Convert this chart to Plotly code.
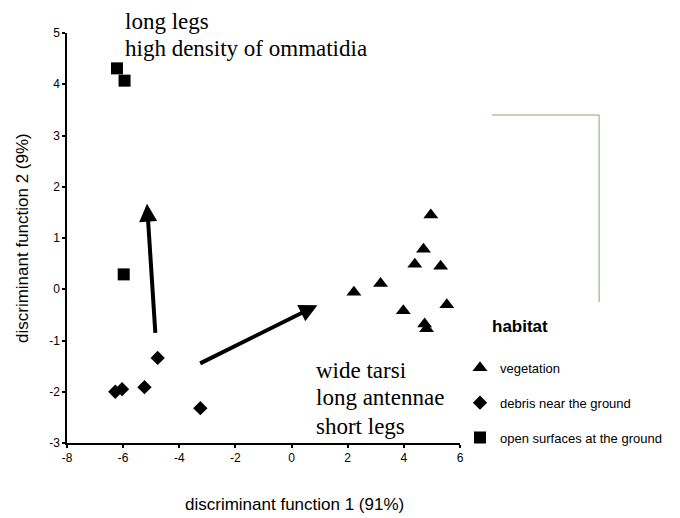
import plotly.graph_objects as go

# Data
veg_x = [4.96, 4.70, 4.39, 5.31, 3.17, 2.22, 3.98, 5.53, 4.74, 4.81]
veg_y = [1.45, 0.78, 0.49, 0.45, 0.11, -0.06, -0.42, -0.30, -0.68, -0.77]
deb_x = [-4.77, -5.24, -6.04, -6.28, -3.25]
deb_y = [-1.34, -1.91, -1.95, -2.00, -2.32]
open_x = [-6.22, -5.95, -5.98]
open_y = [4.31, 4.07, 0.29]

# Arrows: (tail_x, tail_y, tip_x, tip_y)
arrow_up = (-4.85, -0.88, -5.15, 1.67)
arrow_right = (-3.31, -1.46, 0.92, -0.31)

x_ticks = [-8, -6, -4, -2, 0, 2, 4, 6]
x_tick_labels = ["-8", "-6", "-4", "-2", "0", "2", "4", "6"]
y_ticks = [-3, -2, -1, 0, 1, 2, 3, 4, 5]
y_tick_labels = ["-3", "-2", "-1", "0", "1", "2", "3", "4", "5"]

upper_lines = ["long legs", "high density of ommatidia"]
lower_lines = ["wide tarsi", "long antennae", "short legs"]

fig = go.Figure()
fig.add_trace(go.Scatter(x=veg_x, y=veg_y, mode="markers", name="vegetation",
                         legendgroup="a",
                         marker=dict(symbol="triangle-up", size=13, color="black")))
fig.add_trace(go.Scatter(x=deb_x, y=deb_y, mode="markers", name="debris near the ground",
                         legendgroup="b",
                         marker=dict(symbol="diamond", size=11, color="black")))
fig.add_trace(go.Scatter(x=open_x, y=open_y, mode="markers", name="open surfaces at the ground",
                         legendgroup="c",
                         marker=dict(symbol="square", size=12, color="black")))

for tx, ty, hx, hy in (arrow_up, arrow_right):
    fig.add_annotation(x=hx, y=hy, ax=tx, ay=ty, xref="x", yref="y", axref="x", ayref="y",
                       text="", showarrow=True, arrowhead=2, arrowsize=0.9, arrowwidth=4,
                       arrowcolor="black")

serif = "Liberation Serif, Times New Roman, serif"
sans = "Liberation Sans, Arial, sans-serif"

for txt, yy in zip(upper_lines, [1.029, 0.961]):
    fig.add_annotation(x=0.143, y=yy, xref="paper", yref="paper", xanchor="left", yanchor="middle",
                       text=txt, showarrow=False,
                       font=dict(family=serif, size=23, color="black"))
for txt, yy in zip(lower_lines, [0.178, 0.110, 0.041]):
    fig.add_annotation(x=0.628, y=yy, xref="paper", yref="paper", xanchor="left", yanchor="middle",
                       text=txt, showarrow=False,
                       font=dict(family=serif, size=23, color="black"))

fig.add_annotation(x=0.578, y=-0.151, xref="paper", yref="paper", xanchor="center", yanchor="middle",
                   text="discriminant function 1 (91%)", showarrow=False,
                   font=dict(family=sans, size=17, color="black"))
fig.add_annotation(x=-0.1145, y=0.5, xref="paper", yref="paper", xanchor="center", yanchor="middle",
                   text="discriminant function 2 (9%)", showarrow=False, textangle=-90,
                   font=dict(family=sans, size=17, color="black"))
fig.add_annotation(x=1.076, y=0.285, xref="paper", yref="paper", xanchor="left", yanchor="middle",
                   text="<b>habitat</b>", showarrow=False,
                   font=dict(family=sans, size=17, color="black"))

fig.add_shape(type="path", xref="paper", yref="paper",
              path="M 1.081 0.8 L 1.354 0.8 L 1.354 0.344",
              line=dict(color="#8aa56e", width=1))

fig.update_layout(
    width=672, height=510, autosize=False,
    margin=dict(l=59, r=220, t=25, b=75, autoexpand=False),
    plot_bgcolor="white", paper_bgcolor="white",
    showlegend=True,
    legend=dict(x=1.0, y=0.22, xanchor="left", yanchor="top",
                font=dict(family=sans, size=13, color="black"),
                tracegroupgap=15, traceorder="grouped", bgcolor="rgba(0,0,0,0)"),
    xaxis=dict(range=[-8, 6], tickvals=x_ticks, ticktext=x_tick_labels,
               showgrid=False, zeroline=False,
               showline=True, linecolor="black", linewidth=1.5,
               ticks="outside", ticklen=3, tickwidth=2, tickcolor="black",
               tickfont=dict(family=sans, size=12, color="black")),
    yaxis=dict(range=[-3, 5], tickvals=y_ticks, ticktext=y_tick_labels,
               showgrid=False, zeroline=False,
               showline=True, linecolor="black", linewidth=1.5,
               ticks="outside", ticklen=3, tickwidth=2, tickcolor="black",
               tickfont=dict(family=sans, size=12, color="black")),
)

fig.write_html("out.html")
